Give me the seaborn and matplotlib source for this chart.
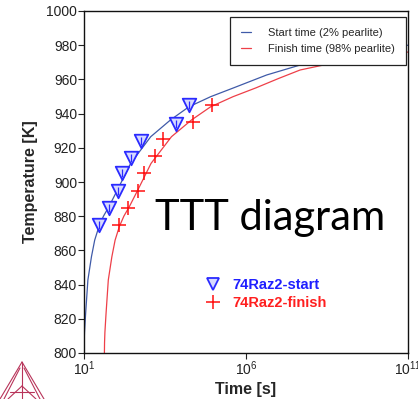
import matplotlib
matplotlib.use("Agg")
import matplotlib.pyplot as plt
import seaborn as sns
import pandas as pd
from matplotlib.lines import Line2D

# ---- data (time in s, temperature in K) ----
start_curve_time = [10**1.0, 10**1.004, 10**1.015, 10**1.05, 10**1.12, 10**1.23, 10**1.33, 10**1.46,
                    10**1.6, 10**1.77, 10**2.03, 10**2.44, 10**3.06, 10**3.67, 10**4.24, 10**4.91,
                    10**5.61, 10**6.64, 10**7.67, 10**9.0, 10**10.0, 10**11.0]
start_curve_T = [800, 806, 812, 823, 842.7, 856.3, 866, 873.9,
                 880, 885.6, 895.3, 910.9, 926.5, 936.3, 944, 949.9,
                 955, 962.6, 968.4, 973, 977, 980]
finish_curve_time = [10**1.63, 10**1.634, 10**1.645, 10**1.68, 10**1.75, 10**1.86, 10**1.96, 10**2.09,
                     10**2.23, 10**2.40, 10**2.66, 10**3.07, 10**3.70, 10**4.32, 10**4.91, 10**5.6,
                     10**6.3, 10**7.0, 10**7.67, 10**8.39, 10**9.5, 10**11.0]
finish_curve_T = [800, 806, 812, 823, 842.7, 856.3, 866, 873.9,
                  880, 885.6, 895.3, 910.9, 926.5, 936.3, 944, 949.9,
                  955, 960.5, 965.5, 968.4, 972, 976]

start_exp_time = [29, 59, 115, 146, 276, 575, 6700, 17000]
start_exp_T = [875, 885, 895, 905, 914, 924, 934, 945]
finish_exp_time = [120, 234, 479, 692, 1549, 2818, 22387, 87096]
finish_exp_T = [875, 885, 895, 905, 915, 925, 935, 945]

legend_curves = ["Start time (2% pearlite)", "Finish time (98% pearlite)"]
legend_exp = ["74Raz2-start", "74Raz2-finish"]
x_ticks = [1e1, 1e6, 1e11]
y_ticks = [800, 820, 840, 860, 880, 900, 920, 940, 960, 980, 1000]

sns.set_style("white")
plt.rcParams["font.family"] = ["Liberation Sans", "DejaVu Sans"]

fig = plt.figure(figsize=(4.18, 3.99), dpi=100)
ax = fig.add_axes([84/418, 46/399, 324/418, 342/399])

blue_line = "#3f5aa8"
red_line = "#ee3f48"
blue_mk = "#2a2aff"
red_mk = "#ff1010"

sc = pd.DataFrame({"t": start_curve_time, "T": start_curve_T})
fc = pd.DataFrame({"t": finish_curve_time, "T": finish_curve_T})
sns.lineplot(data=sc, x="t", y="T", ax=ax, color=blue_line, lw=0.9, sort=False, estimator=None)
sns.lineplot(data=fc, x="t", y="T", ax=ax, color=red_line, lw=0.9, sort=False, estimator=None)

se = pd.DataFrame({"t": start_exp_time, "T": start_exp_T})
fe = pd.DataFrame({"t": finish_exp_time, "T": finish_exp_T})
sns.scatterplot(data=se, x="t", y="T", ax=ax, marker="v", s=95, facecolor="#d6d9ff",
                edgecolor=blue_mk, linewidth=1.3, zorder=5)
sns.scatterplot(data=se, x="t", y="T", ax=ax, marker="|", s=28, color=blue_mk,
                linewidth=0.9, zorder=6)
sns.scatterplot(data=fe, x="t", y="T", ax=ax, marker="+", s=95, color=red_mk,
                linewidth=1.1, zorder=5)

ax.set_xscale("log")
ax.set_xlim(1e1, 1e11)
ax.set_ylim(800, 1000)
ax.set_xticks(x_ticks)
ax.set_yticks(y_ticks)
ax.xaxis.set_minor_locator(matplotlib.ticker.NullLocator())
ax.tick_params(axis="both", direction="out", length=4, width=0.8, labelsize=10, colors="#222222",
               bottom=True, left=True)
ax.tick_params(axis="x", pad=0.5)
ax.tick_params(axis="y", pad=1)
for s in ax.spines.values():
    s.set_color("#111111")
    s.set_linewidth(1.0)

ax.set_xlabel("Time [s]", fontsize=11.5, fontweight="bold", labelpad=3)
ax.set_ylabel("Temperature [K]", fontsize=11.5, fontweight="bold", labelpad=6)

handles = [Line2D([], [], color=blue_line, lw=0.9), Line2D([], [], color=red_line, lw=0.9)]
leg = ax.legend(handles, legend_curves, loc="upper right", bbox_to_anchor=(0.994, 0.983),
                fontsize=8, frameon=True, fancybox=False, framealpha=1, edgecolor="#222222",
                handlelength=0.95, borderpad=1.0, labelspacing=0.55, handletextpad=1.5,
                borderaxespad=0)
leg.get_frame().set_linewidth(0.9)
ax.add_artist(leg)

h2 = [Line2D([], [], ls="none", marker="v", ms=9, mfc="#d6d9ff", mec=blue_mk, mew=1.3),
      Line2D([], [], ls="none", marker="+", ms=9.5, color=red_mk, mew=1.1)]
leg2 = ax.legend(h2, legend_exp, loc="center left", bbox_to_anchor=(0.372, 0.1725), frameon=False,
                 fontsize=10.5, handletextpad=0.7, handlelength=1.2, labelspacing=0.3,
                 borderaxespad=0, borderpad=0)
for t, c in zip(leg2.get_texts(), ["#1f1fff", "#ff1f1f"]):
    t.set_color(c)
    t.set_fontweight("bold")

fig.text(270/418, 1 - 230/399, "TTT diagram", fontsize=30, family=["Lato", "DejaVu Sans"],
         ha="center", va="baseline", color="black")

# logo
lc = "#b8345a"
for (x0, y0, x1, y1) in [(22, 362, 0, 399), (22, 362, 44, 399), (22, 362, 22, 399),
                         (20, 368, 4, 399), (24, 368, 40, 399), (10, 392, 34, 392),
                         (22, 386, 8, 399), (22, 386, 36, 399)]:
    fig.add_artist(Line2D([x0/418, x1/418], [1 - y0/399, 1 - y1/399], color=lc, lw=0.8))

fig.savefig("out.png", dpi=100)
